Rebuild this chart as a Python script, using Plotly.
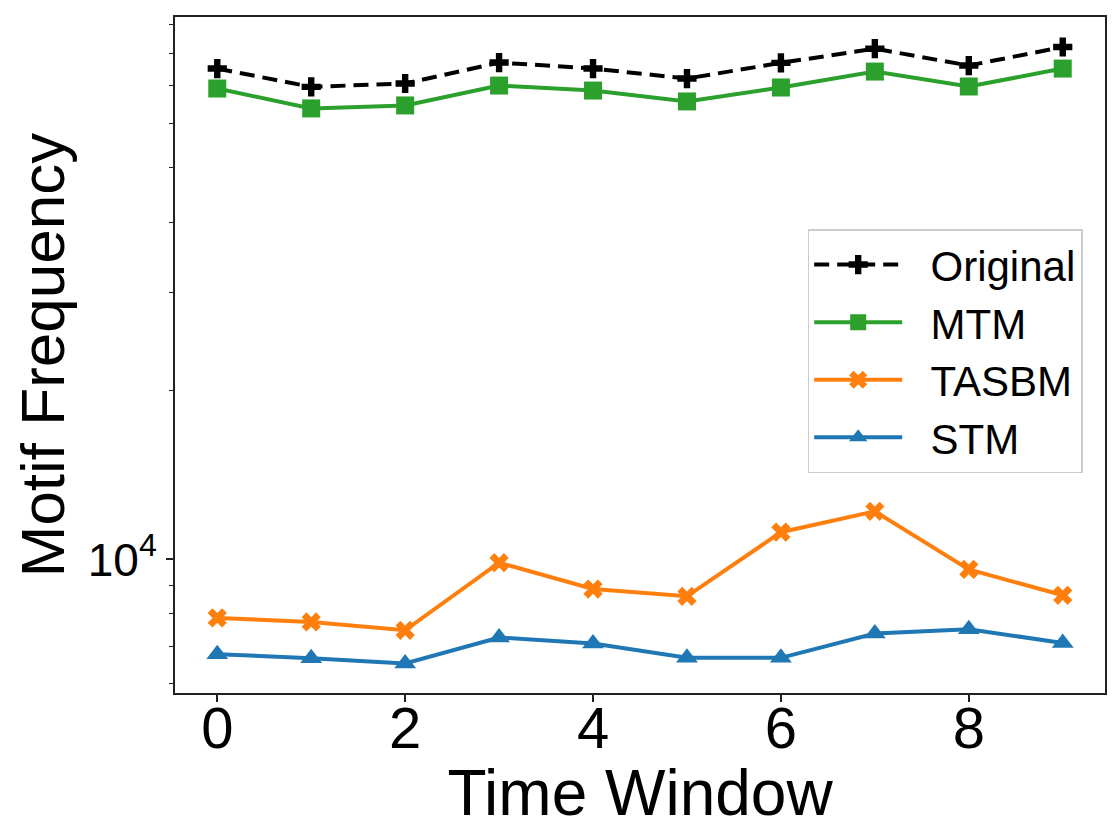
import plotly.graph_objs as go

## Motif frequency per time window, log scale on y
time_window = [0, 1, 2, 3, 4, 5, 6, 7, 8, 9]
original = [75160, 69720, 70680, 77040, 75160, 72140, 76940, 81550, 76100, 82120]
mtm = [69240, 63800, 64590, 70090, 68670, 65660, 69530, 74240, 69820, 75160]
tasbm = [7863, 7734, 7473, 9866, 8855, 8594, 11184, 12187, 9598, 8629]
stm = [6776, 6665, 6522, 7256, 7079, 6674, 6674, 7376, 7505, 7096]

x_ticks = [0, 2, 4, 6, 8]
y_major = [10000]
y_major_text = ['10<sup>4</sup>']
y_minor = [6000, 7000, 8000, 9000, 20000, 30000, 40000, 50000, 60000, 70000, 80000, 90000]

font = 'Liberation Sans, Arial, Helvetica, sans-serif'
pad = '\u00a0\u00a0'  # a bit of room between legend symbol and label

data = [
    go.Scatter(x=time_window, y=original, name=pad + 'Original', mode='lines+markers',
               line=dict(color='black', width=4, dash='15px,8px'),
               marker=dict(symbol='cross', size=16, color='black')),
    go.Scatter(x=time_window, y=mtm, name=pad + 'MTM', mode='lines+markers',
               line=dict(color='#2ca02c', width=4),
               marker=dict(symbol='square', size=18, color='#2ca02c')),
    go.Scatter(x=time_window, y=tasbm, name=pad + 'TASBM', mode='lines+markers',
               line=dict(color='#ff7f0e', width=4),
               marker=dict(symbol='x', size=17, color='#ff7f0e')),
    go.Scatter(x=time_window, y=stm, name=pad + 'STM', mode='lines+markers',
               line=dict(color='#1f77b4', width=4),
               marker=dict(symbol='triangle-up', size=19, color='#1f77b4')),
]

## page body has an 8px margin, so the figure is a bit smaller than the window
layout = go.Layout(
    width=1104, height=821,
    margin=dict(l=167, r=7, t=9, b=136),
    paper_bgcolor='white', plot_bgcolor='white',
    font=dict(family=font, color='black'),
    xaxis=dict(title=dict(text='Time Window', font=dict(size=64), standoff=0),
               automargin=False,
               range=[-0.45, 9.45], tickvals=x_ticks,
               tickfont=dict(size=58), ticklabelstandoff=-24,
               ticks='outside', ticklen=7, tickwidth=1.5, tickcolor='#222',
               showline=True, linecolor='#222', linewidth=2, mirror=True,
               showgrid=False, zeroline=False),
    yaxis=dict(title=dict(text='Motif Frequency', font=dict(size=62), standoff=8),
               automargin=False,
               type='log', range=[3.7616, 4.968],
               tickvals=y_major, ticktext=y_major_text,
               tickfont=dict(size=46),
               ticks='outside', ticklen=7, tickwidth=1.5, tickcolor='#222',
               minor=dict(tickvals=y_minor, ticks='outside', ticklen=4,
                          tickwidth=1.2, tickcolor='#222', showgrid=False),
               showline=True, linecolor='#222', linewidth=2, mirror=True,
               showgrid=False, zeroline=False),
    legend=dict(x=0.976, y=0.686, xanchor='right', yanchor='top',
                font=dict(size=42), bgcolor='rgba(255,255,255,0.8)',
                bordercolor='#cccccc', borderwidth=1.5,
                tracegroupgap=0, itemwidth=88),
    showlegend=True,
)

fig = go.Figure(data=data, layout=layout)
fig.write_html('out.html')
